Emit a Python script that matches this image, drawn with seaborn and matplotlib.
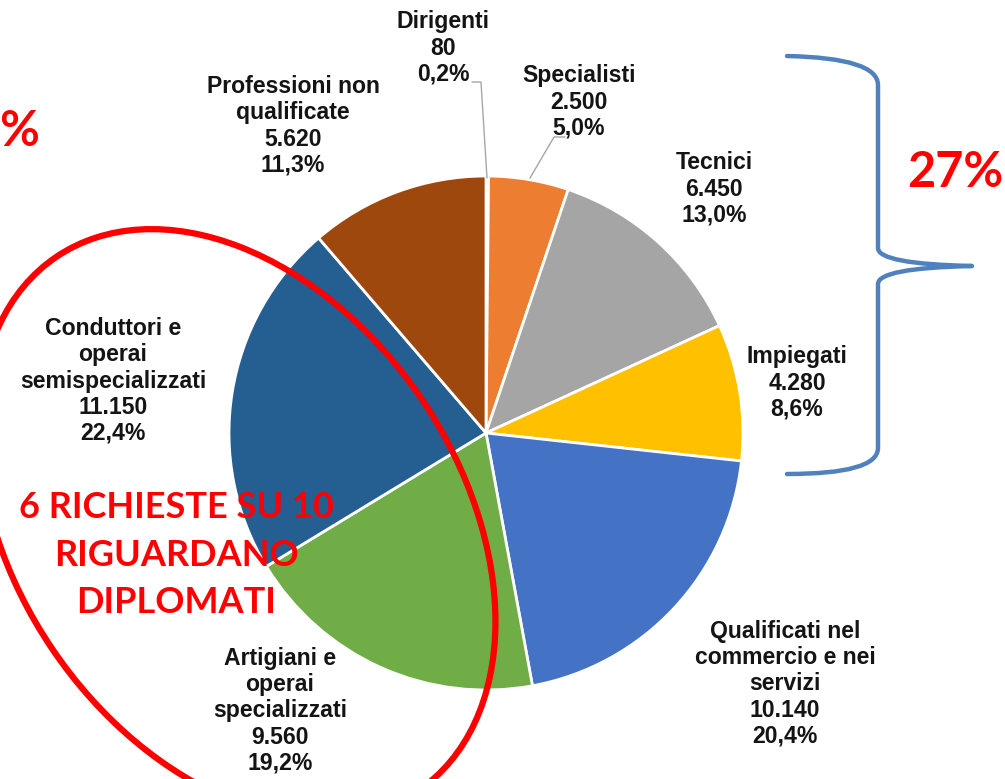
import numpy as np
import matplotlib
matplotlib.use("Agg")
import matplotlib.pyplot as plt
from matplotlib.path import Path
from matplotlib.patches import PathPatch, Ellipse
import seaborn as sns

# ---------------- data ----------------
categories = ["Dirigenti", "Specialisti", "Tecnici", "Impiegati",
              "Qualificati nel\ncommercio e nei\nservizi",
              "Artigiani e\noperai\nspecializzati",
              "Conduttori e\noperai\nsemispecializzati",
              "Professioni non\nqualificate"]
values = [80, 2500, 6450, 4280, 10140, 9560, 11150, 5620]
value_labels = ["80", "2.500", "6.450", "4.280", "10.140", "9.560", "11.150", "5.620"]
pct_labels = ["0,2%", "5,0%", "13,0%", "8,6%", "20,4%", "19,2%", "22,4%", "11,3%"]
colors = ["#5B9BD5", "#ED7D31", "#A5A5A5", "#FFC000", "#4472C4",
          "#70AD47", "#255E91", "#9E480E"]

W, H = 1005, 779
sns.set_theme(style="white")
plt.rcParams["font.family"] = ["Liberation Sans", "DejaVu Sans"]

fig = plt.figure(figsize=(W / 100, H / 100), dpi=100)
ax = fig.add_axes([0, 0, 1, 1])

def P(x, y):
    return (x, H - y)

palette = sns.color_palette(colors)
ax.pie(values, colors=palette, startangle=90, counterclock=False,
       center=P(486, 433), radius=257,
       wedgeprops=dict(edgecolor="white", linewidth=2))
ax.set_xlim(0, W)
ax.set_ylim(0, H)
ax.set_aspect("equal")
ax.axis("off")

# labels
label_pos = [(443, 48), (579, 102), (714, 189), (797, 383),
             (785, 684), (280, 711), (113, 381), (293, 126)]
for cat, v, p, (x, y) in zip(categories, value_labels, pct_labels, label_pos):
    ax.text(*P(x, y), f"{cat}\n{v}\n{p}", ha="center", va="center",
            fontsize=16.6, fontweight="bold", color="#141414",
            linespacing=1.17)

# leader lines
lc = "#A6A6A6"
ax.plot(*zip(P(472, 82), P(481, 82), P(487, 178)), color=lc, lw=1)
ax.plot(*zip(P(565, 137), P(554, 137), P(530, 178)), color=lc, lw=1)

# brace
bc = "#4F81BD"
verts = [P(787, 56), P(878, 58), P(878, 85), P(878, 248),
         P(878, 264), P(972, 266),
         P(878, 268), P(878, 284), P(878, 448),
         P(878, 474), P(787, 474)]
codes = [Path.MOVETO, Path.CURVE3, Path.CURVE3, Path.LINETO,
         Path.CURVE3, Path.CURVE3,
         Path.CURVE3, Path.CURVE3, Path.LINETO,
         Path.CURVE3, Path.CURVE3]
ax.add_patch(PathPatch(Path(verts, codes), fill=False, edgecolor=bc, lw=3.2,
                       capstyle="round", joinstyle="round"))

red = "#FF0000"
ax.text(*P(955, 172), "27%", ha="center", va="center", fontsize=35,
        fontweight="bold", color=red, family=["Lato", "DejaVu Sans"])
ax.text(*P(-1, 131), "%", ha="left", va="center", fontsize=35,
        fontweight="bold", color=red, family=["Lato", "DejaVu Sans"])

# red highlight ellipse
ax.add_patch(Ellipse(P(237, 524), 645, 446, angle=-55.9,
                     fill=False, edgecolor=red, lw=4.5))

ax.text(*P(176, 555), "6 RICHIESTE SU 10\nRIGUARDANO\nDIPLOMATI", ha="center",
        va="center", fontsize=26, fontweight="bold", color=red,
        family=["Lato", "DejaVu Sans"], linespacing=1.55)

fig.savefig("out.png", dpi=100)
